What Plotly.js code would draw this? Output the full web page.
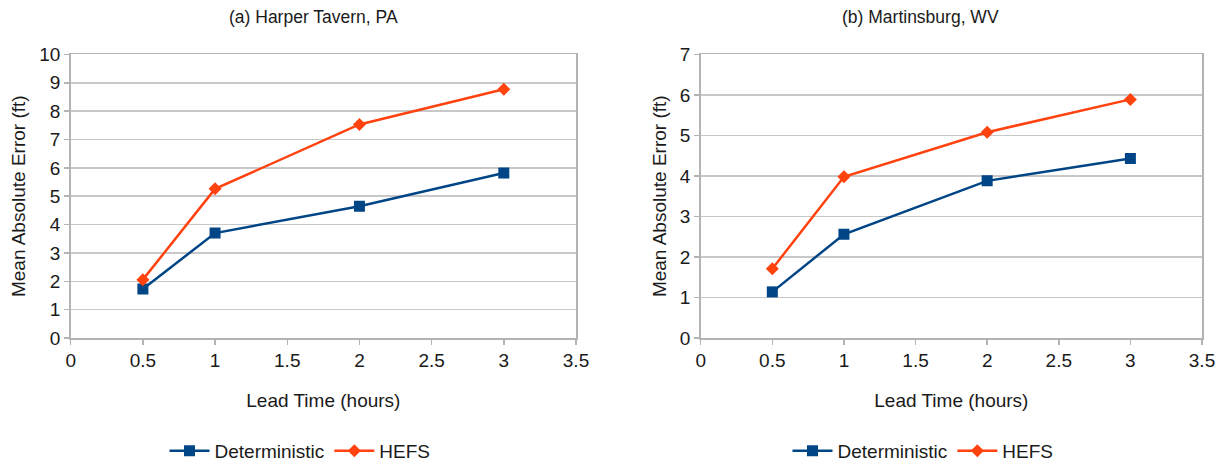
<!DOCTYPE html>
<html>
<head>
<meta charset="utf-8">
<script src="https://cdn.plot.ly/plotly-3.0.1.min.js"></script>
<style>html,body{margin:0;padding:0;background:#fff;}#chart{width:1229px;height:470px;}</style>
</head>
<body>
<div id="chart"></div>
<script>
const leadTime = [0.5, 1, 2, 3];
const harperDeterministic = [1.73, 3.70, 4.65, 5.82];
const harperHEFS = [2.06, 5.26, 7.53, 8.77];
const martinsburgDeterministic = [1.14, 2.56, 3.88, 4.43];
const martinsburgHEFS = [1.71, 3.98, 5.08, 5.89];
const seriesNames = ["Deterministic", "HEFS"];
const panelTitles = ["(a) Harper Tavern, PA", "(b) Martinsburg, WV"];
const xTitle = "Lead Time (hours)";
const yTitle = "Mean Absolute Error (ft)";

const blue = "#004586", orange = "#ff420e";
const FONT = "Liberation Sans, Arial, sans-serif";

function mk(x, y, name, color, symbol, size, xa, ya, leg) {
  return {x: x, y: y, name: name, type: "scatter", mode: "lines+markers",
    xaxis: xa, yaxis: ya, legend: leg,
    line: {color: color, width: 2.5},
    marker: {color: color, symbol: symbol, size: size}};
}
const traces = [
  mk(leadTime, harperDeterministic, seriesNames[0], blue, "square", 11, "x", "y", "legend"),
  mk(leadTime, harperHEFS, seriesNames[1], orange, "diamond", 10, "x", "y", "legend"),
  mk(leadTime, martinsburgDeterministic, seriesNames[0], blue, "square", 11, "x2", "y2", "legend2"),
  mk(leadTime, martinsburgHEFS, seriesNames[1], orange, "diamond", 10, "x2", "y2", "legend2")
];

const gridC = "#c8c8c8", axC = "#b3b3b3", txt = "#1a1a1a";
function xax(dom, anchor) {
  return {domain: dom, anchor: anchor, range: [0, 3.5], dtick: 0.5, tick0: 0,
    showgrid: false, zeroline: false, showline: true, linecolor: axC, linewidth: 1.5, mirror: true,
    ticks: "outside", ticklen: 5, tickcolor: axC, tickwidth: 1.5,
    tickfont: {family: FONT, size: 19, color: txt},
    title: {text: xTitle, font: {family: FONT, size: 19, color: txt}, standoff: 23}};
}
function yax(dom, anchor, max) {
  return {domain: dom, anchor: anchor, range: [0, max], dtick: 1,
    showgrid: true, gridcolor: gridC, gridwidth: 1.5, zeroline: false,
    showline: true, linecolor: axC, linewidth: 1.5, mirror: true,
    ticks: "outside", ticklen: 5, tickcolor: axC, tickwidth: 1.5,
    tickfont: {family: FONT, size: 19, color: txt},
    title: {text: yTitle, font: {family: FONT, size: 19, color: txt}, standoff: 8}};
}
const yDom = [1 - 341.7/470, 1 - 55/470];
const layout = {
  width: 1229, height: 470, margin: {l: 0, r: 0, t: 0, b: 0},
  paper_bgcolor: "#fff", plot_bgcolor: "#fff",
  font: {family: FONT, color: txt},
  showlegend: true,
  xaxis: xax([70.7/1229, 576/1229], "y"),
  yaxis: yax(yDom, "x", 10),
  xaxis2: xax([700.7/1229, 1202/1229], "y2"),
  yaxis2: yax(yDom, "x2", 7),
  legend: {orientation: "h", x: 300/1229, xanchor: "center", y: 1 - 456/470, yanchor: "middle",
    font: {family: FONT, size: 19, color: txt}, itemwidth: 40, tracegroupgap: 0, bgcolor: "rgba(0,0,0,0)"},
  legend2: {orientation: "h", x: 923/1229, xanchor: "center", y: 1 - 456/470, yanchor: "middle",
    font: {family: FONT, size: 19, color: txt}, itemwidth: 40, tracegroupgap: 0, bgcolor: "rgba(0,0,0,0)"},
  annotations: [
    {text: panelTitles[0], xref: "paper", yref: "paper", x: 313/1229, y: 1 - 17/470, showarrow: false,
      xanchor: "center", yanchor: "middle", font: {family: FONT, size: 17.5, color: txt}},
    {text: panelTitles[1], xref: "paper", yref: "paper", x: 920/1229, y: 1 - 17/470, showarrow: false,
      xanchor: "center", yanchor: "middle", font: {family: FONT, size: 17.5, color: txt}}
  ]
};
Plotly.newPlot("chart", traces, layout, {displayModeBar: false, staticPlot: true});
</script>
</body>
</html>
